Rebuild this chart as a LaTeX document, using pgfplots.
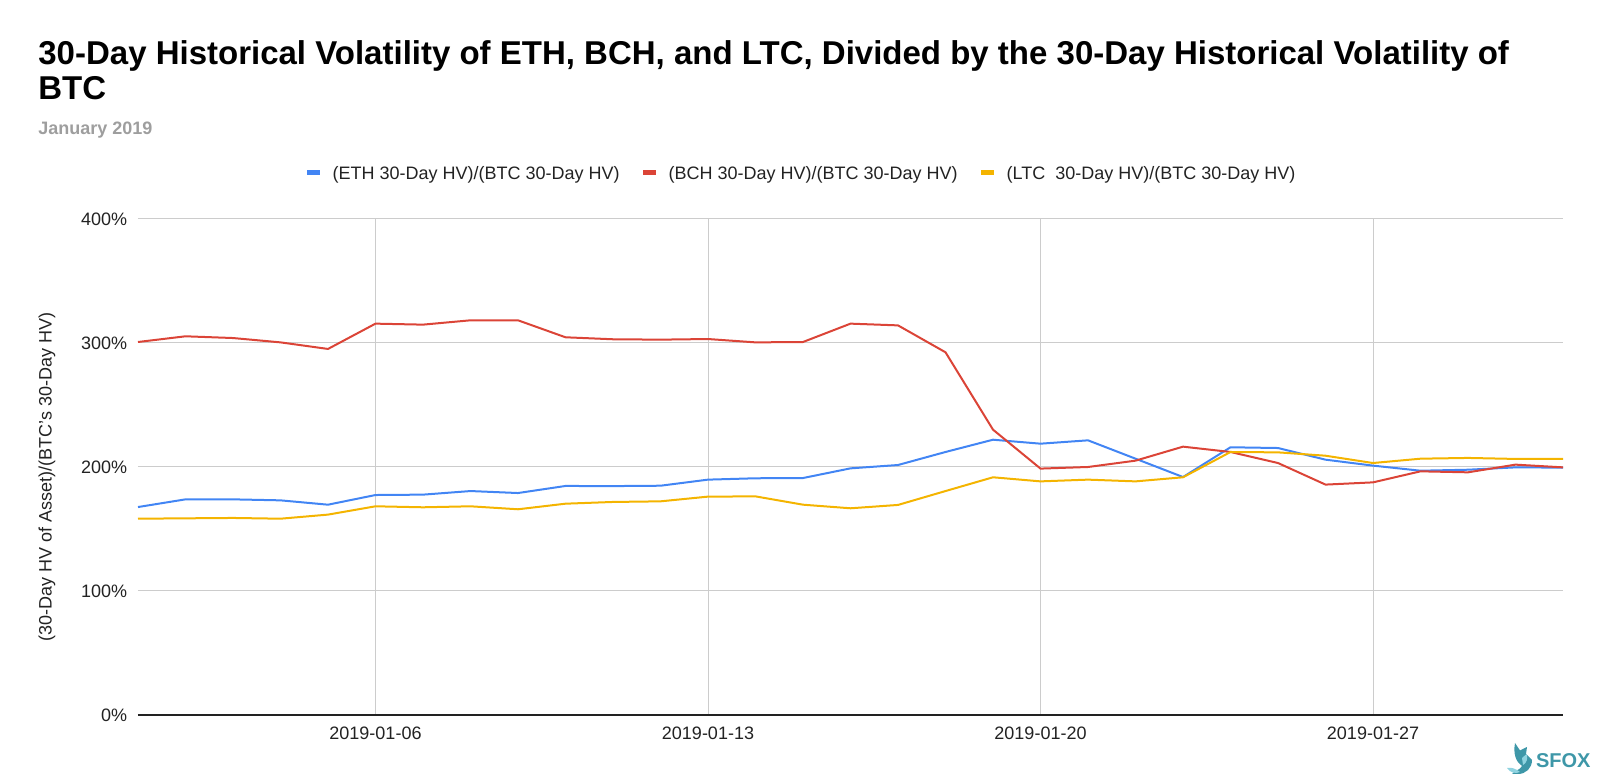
\documentclass[border=0pt]{standalone}
\usepackage{fontspec}
\setmainfont{Liberation Sans}
\usepackage{pgfplots}
\usepackage{pgfplotstable}
\pgfplotsset{compat=1.18}
\definecolor{ethblue}{HTML}{4285F4}
\definecolor{bchred}{HTML}{DB4437}
\definecolor{ltcyellow}{HTML}{F4B400}
\definecolor{gridgray}{HTML}{CCCCCC}
\definecolor{txt}{HTML}{222222}
\definecolor{subgray}{HTML}{9E9E9E}
\definecolor{sfox}{HTML}{3E97A8}
\definecolor{sfoxlight}{HTML}{8FD3E0}

\pgfplotstableread{
day eth bch ltc
0 167.7 300.8 158.3
1 173.9 305.4 158.6
2 173.9 304.0 158.9
3 173.1 300.5 158.3
4 169.6 295.2 161.6
5 177.4 315.6 168.3
6 177.7 314.8 167.5
7 180.6 318.3 168.3
8 179.0 318.3 165.9
9 184.7 304.6 170.4
10 184.6 303.0 171.8
11 184.9 302.7 172.3
12 189.8 303.2 176.1
13 190.9 300.5 176.3
14 191.1 300.8 169.6
15 198.9 315.6 166.7
16 201.6 314.2 169.4
17 212.1 292.5 180.6
18 222.0 230.1 191.7
19 218.8 198.7 188.4
20 221.5 200.0 189.8
21 206.7 205.1 188.4
22 191.9 216.4 191.7
23 215.9 212.1 212.1
24 215.3 203.2 211.8
25 205.9 185.8 209.1
26 201.1 187.6 203.2
27 197.0 196.5 206.7
28 197.8 195.7 207.3
29 199.7 201.9 206.5
30 199.5 199.7 206.5
}\datatable

\begin{document}
\begin{tikzpicture}[x=1pt,y=1pt]
\path[use as bounding box] (0,0) rectangle (800,390);
\node[anchor=base west, inner sep=0pt, font=\bfseries\fontsize{16.5}{19}\selectfont] at (19,357.5) {30-Day Historical Volatility of ETH, BCH, and LTC, Divided by the 30-Day Historical Volatility of};
\node[anchor=base west, inner sep=0pt, font=\bfseries\fontsize{16.5}{19}\selectfont] at (19,340) {BTC};
\node[anchor=base west, inner sep=0pt, font=\bfseries\fontsize{9}{11}\selectfont, text=subgray] at (19,322.5) {January 2019};
\begin{axis}[
  at={(69pt,32.5pt)}, anchor=south west, scale only axis,
  width=712.5pt, height=248pt,
  xmin=0, xmax=30, ymin=0, ymax=400,
  xtick={5,12,19,26},
  xticklabels={2019-01-06,2019-01-13,2019-01-20,2019-01-27},
  ytick={0,100,200,300,400},
  yticklabels={0\%,100\%,200\%,300\%,400\%},
  major tick length=0pt,
  grid=major,
  major grid style={gridgray, line width=0.5pt},
  axis x line*=bottom, axis y line*=left,
  x axis line style={draw=txt, line width=0.6pt, -},
  y axis line style={draw=none},
  tick label style={font=\fontsize{9}{11}\selectfont, text=txt},
  xticklabel style={anchor=north, inner sep=0pt, yshift=-5.8pt},
  yticklabel style={anchor=east, inner sep=0pt, xshift=-5.2pt},
  ylabel={(30-Day HV of Asset)/(BTC's 30-Day HV)},
  ylabel style={font=\fontsize{9}{11}\selectfont, text=txt, at={(axis description cs:-0.0639,0.48)}, anchor=center, inner sep=0pt},
  legend columns=3,
  legend style={at={(axis description cs:0.4646,1.0907)}, anchor=center, draw=none, fill=none,
    font=\fontsize{9}{11}\selectfont, text=txt, inner sep=0pt,
    nodes={inner sep=0pt},
    /tikz/every odd column/.append style={column sep=5pt},
    /tikz/every even column/.append style={column sep=10.5pt}},
  legend image code/.code={\draw[#1, line width=2.5pt] (0pt,0.9pt) -- (6.5pt,0.9pt);},
  every axis plot/.append style={line width=1pt, line join=round, mark=none},
]
\addplot[ethblue] table[x=day, y=eth] {\datatable};
\addlegendentry{(ETH 30-Day HV)/(BTC 30-Day HV)}
\addplot[bchred] table[x=day, y=bch] {\datatable};
\addlegendentry{(BCH 30-Day HV)/(BTC 30-Day HV)}
\addplot[ltcyellow] table[x=day, y=ltc] {\datatable};
\addlegendentry{(LTC\ \ 30-Day HV)/(BTC 30-Day HV)}
\end{axis}
% SFOX logo
\fill[sfox] (757.5,18.5) -- (760,14.8) -- (763.5,16.5) -- (763,13) -- (766,10)
  .. controls (766,6) and (763,3) .. (759,3) -- (756,3)
  .. controls (757,4.5) and (760,5) .. (761,7)
  .. controls (758,9) and (756.5,13) .. cycle;
\fill[sfoxlight] (753.5,6) .. controls (755,3.5) and (758,3) .. (760,4)
  .. controls (758,5.5) and (756,6.5) .. (753.5,6) -- cycle;
\fill[sfoxlight] (761.5,7.5) .. controls (763.5,8.5) and (764,11) .. (763.3,13) -- (761,11) -- cycle;
\node[anchor=base west, inner sep=0pt, font=\bfseries\fontsize{10}{12}\selectfont, text=sfox] at (767.8,6) {SFOX};
\end{tikzpicture}
\end{document}
